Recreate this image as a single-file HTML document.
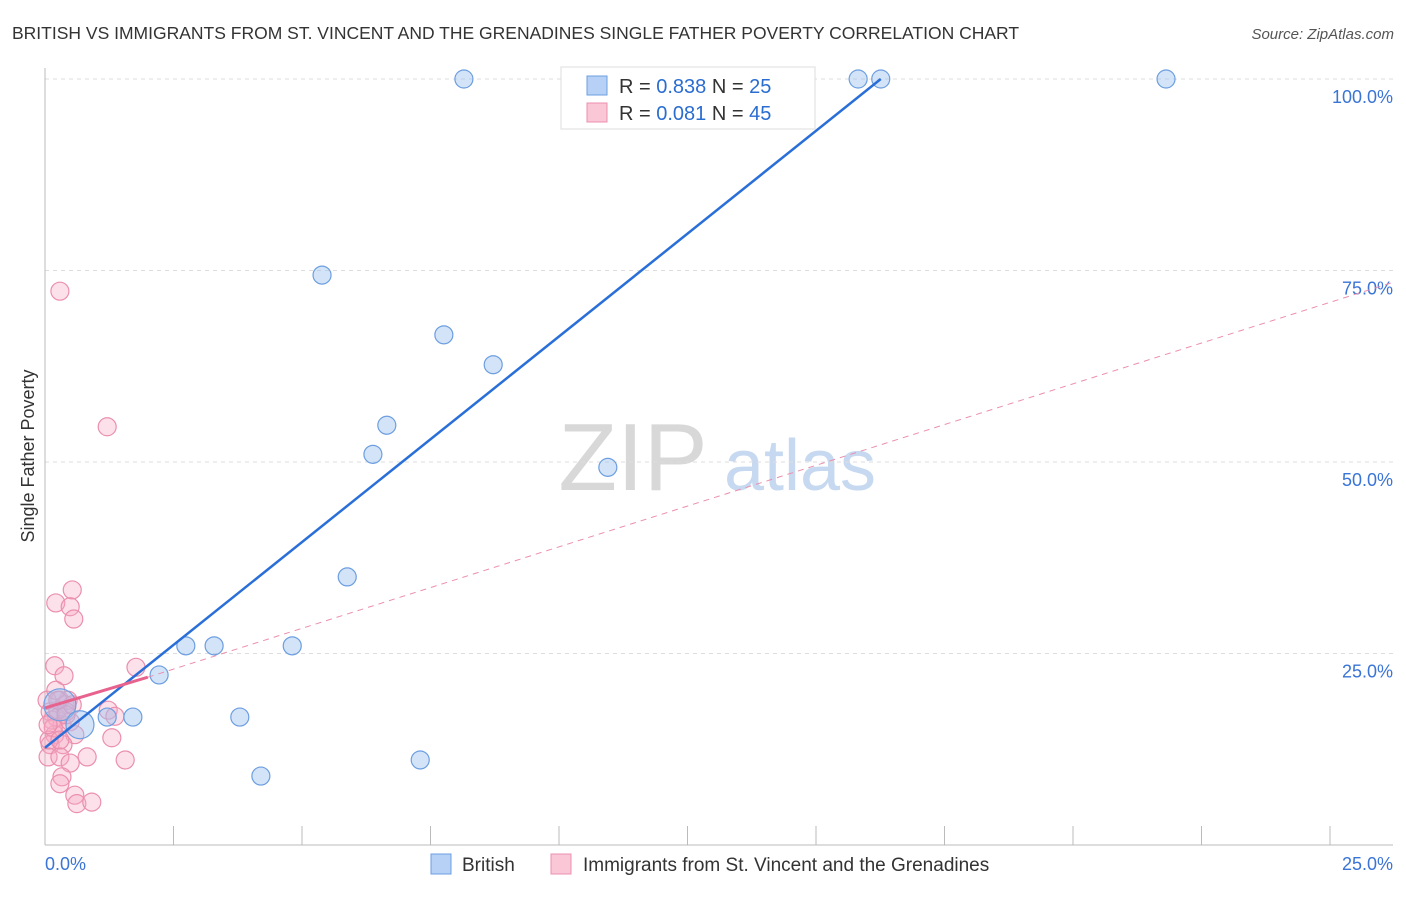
<!DOCTYPE html>
<html><head><meta charset="utf-8"><style>
body{margin:0;background:#fff;font-family:"Liberation Sans",sans-serif;}
svg text{font-family:"Liberation Sans",sans-serif;}
</style></head><body>
<svg id="chart" width="1406" height="892" xmlns="http://www.w3.org/2000/svg">
<text x="12" y="39" font-size="17.5" fill="#333">BRITISH VS IMMIGRANTS FROM ST. VINCENT AND THE GRENADINES SINGLE FATHER POVERTY CORRELATION CHART</text>
<text x="1394" y="39" font-size="15" fill="#555" text-anchor="end" font-style="italic">Source: ZipAtlas.com</text>
<text transform="translate(34,456) rotate(-90)" font-size="18" fill="#333" text-anchor="middle">Single Father Poverty</text>
<g>
<text x="633" y="490" font-size="96" fill="#d8d8d8" font-family="Liberation Serif" text-anchor="middle">ZIP</text>
<text x="800" y="490" font-size="72" fill="#c6d9f0" text-anchor="middle">atlas</text>
</g>
<g id="grid"></g>
<g id="axes"></g>
<g id="marks"></g>
<g>
<rect x="561" y="67" width="254" height="62" fill="#fff" stroke="#ddd"/>
<rect x="587" y="76" width="20" height="19" fill="#b6d1f5" stroke="#6c9ee0"/>
<text x="619" y="93" font-size="20" fill="#333">R = <tspan fill="#2a6dd1">0.838</tspan>   N = <tspan fill="#2a6dd1">25</tspan></text>
<rect x="587" y="103" width="20" height="19" fill="#f9c7d6" stroke="#ec8fae"/>
<text x="619" y="120" font-size="20" fill="#333">R = <tspan fill="#2a6dd1">0.081</tspan>   N = <tspan fill="#2a6dd1">45</tspan></text>
</g>
<g>
<rect x="431" y="854" width="20" height="20" fill="#b6d1f5" stroke="#6c9ee0"/>
<text x="462" y="871" font-size="19" fill="#333">British</text>
<rect x="551" y="854" width="20" height="20" fill="#f9c7d6" stroke="#ec8fae"/>
<text x="583" y="871" font-size="19" fill="#333">Immigrants from St. Vincent and the Grenadines</text>
</g>
</svg>
<script>
const blueX=[8.15,10.23,13.35,14.3,15.82,16.26,21.81,5.39,7.76,8.72,6.65,6.38,10.95,5.88,2.74,3.29,4.81,2.22,0.29,0.68,1.21,1.71,3.79,4.2,7.3];
const blueY=[100,100,100,100,100,100,100,74.4,66.6,62.7,54.8,51.0,49.3,35.0,26.0,26.0,26.0,22.2,18.3,15.7,16.7,16.7,16.7,9.0,11.1];
const blueR=[9,9,9,9,9,9,9,9,9,9,9,9,9,9,9,9,9,9,16,14,9,9,9,9,9];
const pinkX=[0.29,1.21,0.21,0.53,0.49,0.56,0.19,0.37,1.77,0.29,0.39,0.1,0.23,0.33,0.49,0.19,0.58,1.3,0.1,0.35,0.06,0.29,0.82,1.56,0.49,0.33,0.29,0.58,0.62,0.91,1.23,1.36,0.14,0.25,0.45,0.41,0.16,0.08,0.29,0.04,0.21,0.41,0.53,0.25,0.06];
const pinkY=[72.3,54.6,31.6,33.3,31.1,29.5,23.4,22.1,23.2,18.9,18.3,17.4,16.6,15.7,16.1,14.4,14.4,14.0,13.1,13.1,11.5,11.5,11.5,11.1,10.7,8.9,8.0,6.5,5.4,5.6,17.6,16.8,16.3,17.6,18.9,17.4,15.3,13.7,13.7,18.9,20.2,17.0,18.3,18.9,15.7];
const xTicks=[0,2.5,5,7.5,10,12.5,15,17.5,20,22.5,25];
const yTicks=[25,50,75,100];
const yTickLabels=["25.0%","50.0%","75.0%","100.0%"];
const blueLine=[[0,12.7],[16.26,100]];
const pinkSolid=[[0,17.9],[2.0,21.9]];
const pinkDash=[[2.0,21.9],[26.2,73.4]];
const X=v=>45+v*51.4, Y=v=>845-v*7.66;
const NS="http://www.w3.org/2000/svg";
function mk(tag,attrs,parent){const e=document.createElementNS(NS,tag);for(const k in attrs)e.setAttribute(k,attrs[k]);document.getElementById(parent).appendChild(e);return e;}
yTicks.forEach((t,i)=>{
 const g=mk('line',{x1:45,x2:1393,y1:Y(t),y2:Y(t),stroke:'#ddd','stroke-dasharray':'4,4'},'grid');
 
 
 const l=mk('text',{x:1393,y:Y(t)+24,'font-size':18,fill:'#3a74d6','text-anchor':'end'},'axes');
 l.textContent=yTickLabels[i];
 
 
});
const ax=mk('line',{x1:45,x2:45,y1:68,y2:845,stroke:'#bbb'},'axes');


const bx=mk('line',{x1:45,x2:1393,y1:845,y2:845,stroke:'#bbb'},'axes');


xTicks.forEach(t=>{
 const k=mk('line',{x1:X(t),x2:X(t),y1:826,y2:845,stroke:'#bbb'},'axes');
 
 
});
const xl0=mk('text',{x:45,y:870,'font-size':18,fill:'#3a74d6'},'axes');xl0.textContent=xTicks[0].toFixed(1)+'%';


const xl1=mk('text',{x:1393,y:870,'font-size':18,fill:'#3a74d6','text-anchor':'end'},'axes');xl1.textContent=xTicks[xTicks.length-1].toFixed(1)+'%';


pinkX.forEach((x,i)=>{
 const c=mk('circle',{cx:X(x),cy:Y(pinkY[i]),r:9,fill:'rgba(246,170,195,0.35)',stroke:'#eb8fae','stroke-width':1.2},'marks');
 
 
});
blueX.forEach((x,i)=>{
 const c=mk('circle',{cx:X(x),cy:Y(blueY[i]),r:blueR[i],fill:'rgba(160,195,240,0.45)',stroke:'#6c9ee0','stroke-width':1.2},'marks');
 
 
});
const pd=mk('line',{x1:X(pinkDash[0][0]),y1:Y(pinkDash[0][1]),x2:X(pinkDash[1][0]),y2:Y(pinkDash[1][1]),stroke:'#eb8fae','stroke-width':1,'stroke-dasharray':'6,5'},'marks');


const bl=mk('line',{x1:X(blueLine[0][0]),y1:Y(blueLine[0][1]),x2:X(blueLine[1][0]),y2:Y(blueLine[1][1]),stroke:'#2a6fd8','stroke-width':2.5},'marks');


const ps=mk('line',{x1:X(pinkSolid[0][0]),y1:Y(pinkSolid[0][1]),x2:X(pinkSolid[1][0]),y2:Y(pinkSolid[1][1]),stroke:'#e8628e','stroke-width':3},'marks');


</script>
</body></html>
